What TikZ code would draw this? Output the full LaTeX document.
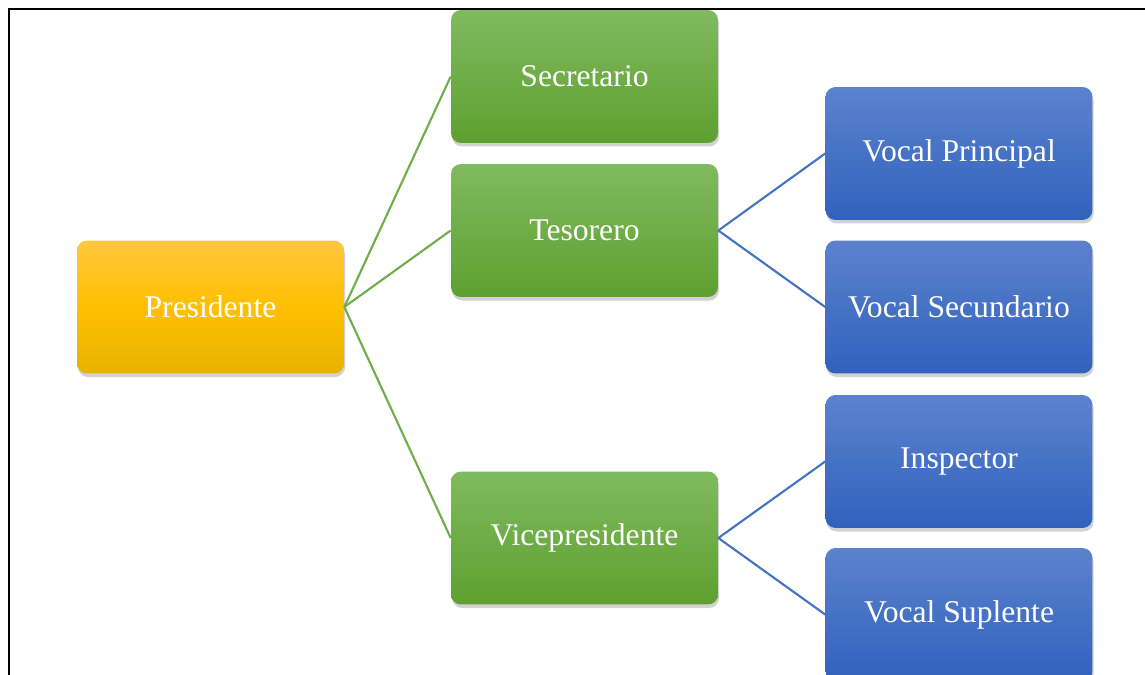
\documentclass[tikz,border=0pt]{standalone}
\usepackage{fontspec}
\setmainfont{Liberation Serif}
\usepackage{tikz}
\usetikzlibrary{shadows}

\definecolor{greentop}{HTML}{80BA60}
\definecolor{greenbot}{HTML}{5EA02F}
\definecolor{goldtop}{HTML}{FFC740}
\definecolor{goldmid}{HTML}{FFC000}
\definecolor{goldbot}{HTML}{E6B300}
\definecolor{bluetop}{HTML}{5C82CD}
\definecolor{bluebot}{HTML}{3062BD}
\definecolor{greenline}{HTML}{70AD47}
\definecolor{blueline}{HTML}{4472C4}

\begin{document}
\begin{tikzpicture}[x=0.02cm, y=-0.02cm,
        box/.style={rectangle, rounded corners=0.2cm, minimum width=5.34cm, minimum height=2.66cm,
            text=white, font=\fontsize{18}{22}\selectfont,
            drop shadow={opacity=0.35, shadow xshift=0.6pt, shadow yshift=-2pt}},
        presbox/.style={box, top color=goldtop, bottom color=goldbot, middle color=goldmid},
        greenbox/.style={box, top color=greentop, bottom color=greenbot},
        bluebox/.style={box, top color=bluetop, bottom color=bluebot},
        greenedge/.style={draw=greenline, line width=1.2pt},
        blueedge/.style={draw=blueline, line width=1.2pt}]
        \path[use as bounding box, clip] (0,0) rectangle (1145,675);
        \fill[white] (0,0) rectangle (1145,675);
        \draw[line width=1.1pt] (9,9) rectangle (1170,700);

        % Define the vertices
        \node[presbox] (pres) at (210.5,307) {Presidente};

        \node[greenbox] (sec) at (584.5,76.5) {Secretario};
        \node[greenbox] (tes) at (584.5,230.5) {Tesorero};
        \node[greenbox] (vice) at (584.5,538) {Vicepresidente};

        \node[bluebox] (vprin) at (959,153.5) {Vocal Principal};
        \node[bluebox] (vsec) at (959,307) {Vocal Secundario};
        \node[bluebox] (insp) at (959,461.5) {Inspector};
        \node[bluebox] (vsup) at (959,614.5) {Vocal Suplente};

        % Define the edges
        \draw[greenedge] (pres.east) -- (sec.west);
        \draw[greenedge] (pres.east) -- (tes.west);
        \draw[greenedge] (pres.east) -- (vice.west);

        \draw[blueedge] (tes.east) -- (vprin.west);
        \draw[blueedge] (tes.east) -- (vsec.west);
        \draw[blueedge] (vice.east) -- (insp.west);
        \draw[blueedge] (vice.east) -- (vsup.west);

    \end{tikzpicture}
\end{document}
